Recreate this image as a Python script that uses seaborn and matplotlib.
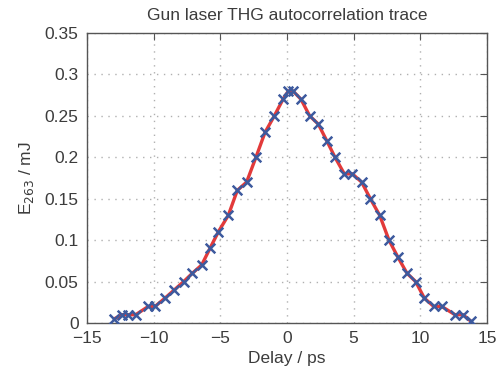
import matplotlib
matplotlib.use("Agg")
import matplotlib.pyplot as plt
import seaborn as sns
import pandas as pd

delay_ps = [-12.95, -12.4, -11.9, -11.35, -10.4, -9.9, -9.15, -8.45, -7.75, -7.1,
            -6.4, -5.78, -5.15, -4.4, -3.73, -3.03, -2.33, -1.65, -0.95, -0.3,
            0.1, 0.45, 1.05, 1.7, 2.35, 2.98, 3.6, 4.3, 4.9, 5.6,
            6.25, 6.95, 7.65, 8.3, 9.0, 9.65, 10.3, 11.0, 11.6, 12.6,
            13.2, 13.8]
energy_mj = [0.005, 0.01, 0.01, 0.01, 0.02, 0.02, 0.03, 0.04, 0.05, 0.06,
             0.07, 0.09, 0.11, 0.13, 0.16, 0.17, 0.20, 0.23, 0.25, 0.27,
             0.28, 0.28, 0.27, 0.25, 0.24, 0.22, 0.20, 0.18, 0.18, 0.17,
             0.15, 0.13, 0.10, 0.08, 0.06, 0.05, 0.03, 0.02, 0.02, 0.01,
             0.01, 0.002]
x_ticks = [-15, -10, -5, 0, 5, 10, 15]
y_ticks = [0, 0.05, 0.1, 0.15, 0.2, 0.25, 0.3, 0.35]
y_tick_labels = ["0", "0.05", "0.1", "0.15", "0.2", "0.25", "0.3", "0.35"]

df = pd.DataFrame({"delay": delay_ps, "energy": energy_mj})

sns.set_style("white")
plt.rcParams['font.family'] = ['Liberation Sans', 'DejaVu Sans']
text_c = "#3c3c3c"

fig = plt.figure(figsize=(4.99, 3.78), dpi=100)
ax = fig.add_axes([87/499, 1-323/378, 400/499, 290/378])

sns.lineplot(data=df, x="delay", y="energy", ax=ax, color="#e23a3a", linewidth=2.4,
             zorder=2, sort=False)
sns.scatterplot(data=df, x="delay", y="energy", ax=ax, marker="x", s=48,
                color="#3d5a9e", linewidth=1.8, zorder=3)

ax.set_xlim(-15, 15)
ax.set_ylim(0, 0.35)
ax.set_xticks(x_ticks)
ax.set_xticklabels([str(t).replace("-", "\u2212") for t in x_ticks])
ax.set_yticks(y_ticks)
ax.set_yticklabels(y_tick_labels)
ax.grid(True, linestyle=(0, (1, 4)), color="#b0b0b0", linewidth=1.0)
ax.tick_params(direction="in", top=True, right=True, length=5, width=0.8,
               colors="#555555", labelcolor=text_c, labelsize=12.5)
ax.tick_params(axis="x", pad=6)
ax.tick_params(axis="y", pad=6)
for s in ax.spines.values():
    s.set_color("#555555")
    s.set_linewidth(1.0)

ax.set_xlabel("Delay / ps", fontsize=12.5, color=text_c, labelpad=3)
ax.set_ylabel("E$_{263}$ / mJ", fontsize=12.5, color=text_c, labelpad=6)
ax.set_title("Gun laser THG autocorrelation trace", fontsize=12.5, color=text_c, pad=9)

fig.savefig("out.png", dpi=100)
